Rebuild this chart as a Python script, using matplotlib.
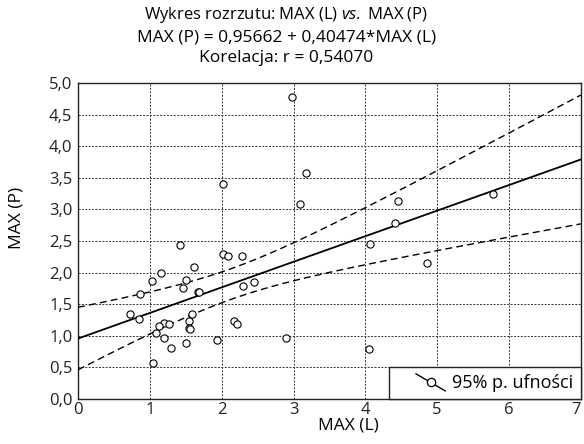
import matplotlib
matplotlib.use('Agg')
import matplotlib.pyplot as plt
from matplotlib.lines import Line2D
from matplotlib.legend_handler import HandlerBase
import numpy as np

plt.rcParams['font.family'] = ['Open Sans', 'DejaVu Sans']
plt.rcParams['mathtext.fontset'] = 'custom'
plt.rcParams['mathtext.rm'] = 'Open Sans'
plt.rcParams['mathtext.it'] = 'Open Sans:italic'

# ─── Data ──────────────────────────────────────────────
max_l = [2.98, 3.17, 2.02, 3.09, 4.45, 5.78, 4.41, 4.06, 1.42, 2.02,
         2.09, 2.28, 4.86, 1.16, 1.62, 1.03, 1.51, 1.46, 2.30, 2.45,
         1.67, 1.69, 0.86, 0.73, 0.85, 1.59, 1.54, 1.20, 1.26, 1.125,
         2.17, 2.22, 1.55, 1.565, 1.08, 1.19, 1.50, 1.93, 1.29, 1.04,
         2.90, 4.05]
max_p = [4.78, 3.58, 3.40, 3.09, 3.13, 3.24, 2.78, 2.46, 2.43, 2.29,
         2.26, 2.26, 2.15, 2.00, 2.09, 1.86, 1.88, 1.76, 1.79, 1.85,
         1.69, 1.69, 1.66, 1.35, 1.27, 1.35, 1.23, 1.21, 1.18, 1.16,
         1.24, 1.18, 1.12, 1.105, 1.04, 0.97, 0.89, 0.94, 0.80, 0.57,
         0.97, 0.79]
intercept = 0.95662
slope = 0.40474
r_value = 0.54070
t_crit = 2.021  # 95%, df = n - 2

x_ticks = [0, 1, 2, 3, 4, 5, 6, 7]
y_ticks = [0.0, 0.5, 1.0, 1.5, 2.0, 2.5, 3.0, 3.5, 4.0, 4.5, 5.0]

x = np.array(max_l)
y = np.array(max_p)
n = len(x)

# regression line + 95% confidence band for the mean
xs = np.linspace(0, 7, 200)
yfit = intercept + slope * xs
resid = y - (intercept + slope * x)
s = np.sqrt(np.sum(resid ** 2) / (n - 2))
sxx = np.sum((x - x.mean()) ** 2)
half = t_crit * s * np.sqrt(1.0 / n + (xs - x.mean()) ** 2 / sxx)

fig = plt.figure(figsize=(5.84, 4.44), dpi=100)
ax = fig.add_axes([0.1336, 0.1014, 0.861, 0.7117])

ax.plot(xs, yfit, color='black', lw=1.3, zorder=3)
ax.plot(xs, yfit + half, color='black', lw=1.0, ls=(0, (5, 3)), zorder=3)
ax.plot(xs, yfit - half, color='black', lw=1.0, ls=(0, (5, 3)), zorder=3)
ax.plot(x, y, ls='none', marker='o', ms=5.2, mfc='white', mec='black',
        mew=0.8, zorder=4)

ax.set_xlim(0, 7)
ax.set_ylim(0, 5)
ax.set_xticks(x_ticks)
ax.set_yticks(y_ticks)
ax.set_xticklabels([str(v) for v in x_ticks])
ax.set_yticklabels([f"{v:.1f}".replace('.', ',') for v in y_ticks])
ax.tick_params(length=0, labelsize=12, colors='#222')
ax.tick_params(axis='x', pad=2)
ax.tick_params(axis='y', pad=4)
# last x label sits on the figure edge: right-align it so it stays visible
ax.get_xticklabels()[-1].set_horizontalalignment('right')
ax.grid(True, color='#333', lw=0.7, ls=(0, (2, 1.5)))
for sp in ax.spines.values():
    sp.set_color('#222')
    sp.set_linewidth(1.0)

ax.set_xlabel('MAX (L)', fontsize=12.5)
ax.xaxis.set_label_coords(0.538, -0.06)
ax.set_ylabel('MAX (P)', fontsize=12.5)
ax.yaxis.set_label_coords(-0.107, 0.573)

# ─── Title (three lines) ─────────────────────────────
fig.text(0.49, 1 - 15 / 444, r'Wykres rozrzutu: MAX (L) $\mathit{vs.}$ MAX (P)',
         ha='center', va='center', fontsize=12)
fig.text(0.49, 1 - 37 / 444,
         f"MAX (P) = {intercept:.5f} + {slope:.5f}*MAX (L)".replace('.', ','),
         ha='center', va='center', fontsize=12.5)
fig.text(0.49, 1 - 58 / 444, f"Korelacja: r = {r_value:.5f}".replace('.', ','),
         ha='center', va='center', fontsize=12.5)


# ─── Legend with diagonal handle ─────────────────────
class DiagHandler(HandlerBase):
    def create_artists(self, legend, orig_handle, xdescent, ydescent,
                       width, height, fontsize, trans):
        x0, x1 = -xdescent + 0.4 * width, -xdescent + width
        y0, y1 = -ydescent - 0.25 * height, -ydescent + 1.1 * height
        line = Line2D([x0, x1], [y1, y0], color='black', lw=1.0, transform=trans)
        dot = Line2D([(x0 + x1) / 2], [(y0 + y1) / 2], ls='none', marker='o',
                     ms=6, mfc='white', mec='black', mew=0.9, transform=trans)
        return [line, dot]


handle = Line2D([], [])
leg = ax.legend([handle], ['95% p. ufności'], loc='lower right',
                handler_map={Line2D: DiagHandler()}, fontsize=13,
                fancybox=False, borderaxespad=0, handlelength=2.7,
                handletextpad=0.4, borderpad=0.4, framealpha=1)
leg.get_frame().set_edgecolor('#222')
leg.get_frame().set_linewidth(1.0)

plt.savefig('out.png', dpi=100, facecolor='white')
plt.close()
